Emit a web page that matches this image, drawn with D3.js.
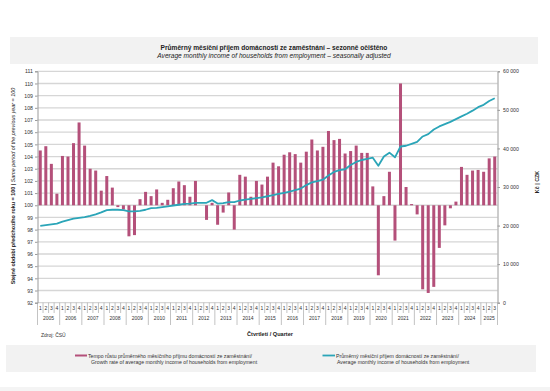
<!DOCTYPE html>
<html>
<head>
<meta charset="utf-8">
<script src="https://cdn.jsdelivr.net/npm/d3@7/dist/d3.min.js"></script>
<style>
body { margin: 0; background: #fff; }
svg { display: block; font-family: "Liberation Sans", Arial, sans-serif; }
</style>
</head>
<body>
<svg id="chart" width="550" height="391"></svg>
<script>
// quarters 2005 Q1 .. 2025 Q3
var years = [2005, 2006, 2007, 2008, 2009, 2010, 2011, 2012, 2013, 2014,
             2015, 2016, 2017, 2018, 2019, 2020, 2021, 2022, 2023, 2024, 2025]
var quarters = [1, 2, 3, 4]
var lastYearQuarters = 3

// growth index, same period of previous year = 100
var growth = [
    104.5, 104.85, 103.4, 100.95,
    104.05, 104.0, 105.1, 106.8,
    104.9, 103.0, 102.85, 101.2,
    102.4, 101.45, 99.85, 99.65,
    97.45, 97.55, 100.5, 101.1,
    100.75, 101.3, 100.2, 100.45,
    101.4, 101.95, 101.65, 100.7,
    102.0, 100.0, 98.8, 100.2,
    98.4, 99.4, 101.05, 98.0,
    102.5, 102.35, 100.7, 102.0,
    101.7, 102.35, 103.5, 103.2,
    104.15, 104.35, 104.2, 103.5,
    104.4, 105.4, 104.5, 104.8,
    106.1, 105.35, 105.45, 104.25,
    104.45, 104.9, 104.3, 104.3,
    101.55, 94.25, 100.75, 102.75,
    97.1, 110.0, 101.5, 100.1,
    99.25, 93.1, 92.8, 93.3,
    96.5, 98.35, 99.75, 100.3,
    103.15, 102.5, 102.85, 102.9,
    102.75, 103.85, 104.0
]

// average monthly income of households from employment, CZK
var income = [
    19900, 20100, 20300, 20500,
    21000, 21400, 21800, 22000,
    22200, 22500, 22900, 23400,
    24000, 24100, 24100, 24000,
    23700, 23700, 23800, 24100,
    24500, 24600, 24800, 25000,
    25200, 25400, 25600, 25700,
    25900, 25900, 25900, 26600,
    25700, 25800, 26100, 26100,
    26500, 26700, 26900, 27100,
    27300, 27600, 27900, 28200,
    28500, 28800, 29200, 29600,
    30500, 31200, 31500, 31900,
    33000, 33900, 34400, 34600,
    35700, 36500, 37000, 37300,
    37600, 35500, 37900, 38900,
    37700, 40500, 40700, 41200,
    41700, 43100, 43700, 44900,
    45700, 46300, 46900, 47600,
    48300, 49000, 49800, 50700,
    51300, 52300, 53000
]

var leftTicks = [92, 93, 94, 95, 96, 97, 98, 99, 100, 101, 102, 103, 104, 105,
                 106, 107, 108, 109, 110, 111]
var rightTicks = [0, 10000, 20000, 30000, 40000, 50000, 60000]

var titleCz = "Průměrný měsíční příjem domácností ze zaměstnání – sezonně očištěno"
var titleEn = "Average monthly income of households from employment – seasonally adjusted"
var legendGrowth = ["Tempo růstu průměrného měsíčního příjmu domácností ze zaměstnání/",
                    "Growth rate of average monthly income of households from employment"]
var legendIncome = ["Průměrný měsíční příjem domácností ze zaměstnání/",
                    "Average monthly income of households from employment"]

var categories = []
years.forEach(function(yr, k) {
    var qs = k == years.length - 1 ? quarters.slice(0, lastYearQuarters) : quarters
    qs.forEach(function(q) { categories.push({year: yr, q: q, key: yr + "Q" + q}) })
})

var barColor = "#b4507a"
var lineColor = "#2ba5b8"
var gridColor = "#d6d6d6"
var axisColor = "#9a9a9a"

var svg = d3.select("#chart")
var plotL = 37.5, plotR = 497.5, plotT = 71.3, plotB = 302.7

var x = d3.scaleBand()
          .domain(categories.map(function(d) { return d.key }))
          .range([plotL, plotR])
          .padding(0)
var yL = d3.scaleLinear().domain([92, 111]).range([plotB, plotT])
var yR = d3.scaleLinear().domain([0, 60000]).range([plotB, plotT])
var bw = x.bandwidth()

// gray bands behind title and legend
svg.append("rect").attr("x", 10).attr("y", 37).attr("width", 528).attr("height", 27).attr("fill", "#f2f2f2")
svg.append("rect").attr("x", 6).attr("y", 345).attr("width", 530).attr("height", 27).attr("fill", "#f2f2f2")
svg.append("rect").attr("x", 0).attr("y", 387).attr("width", 550).attr("height", 4).attr("fill", "#f4f4f4")

svg.append("text").attr("x", 274).attr("y", 50).attr("text-anchor", "middle")
   .attr("font-size", 6.6).attr("font-weight", "bold").attr("fill", "#222").text(titleCz)
svg.append("text").attr("x", 274).attr("y", 58).attr("text-anchor", "middle")
   .attr("font-size", 6.6).attr("font-style", "italic").attr("fill", "#222").text(titleEn)

// gridlines
svg.append("g").selectAll("line").data(leftTicks).join("line")
   .attr("x1", plotL).attr("x2", plotR)
   .attr("y1", function(d) { return yL(d) }).attr("y2", function(d) { return yL(d) })
   .attr("stroke", gridColor).attr("stroke-width", 1.3)

// left axis
var gl = svg.append("g").attr("transform", "translate(" + plotL + ",0)")
   .call(d3.axisLeft(yL).tickValues(leftTicks).tickSize(2.5).tickPadding(2))
gl.select(".domain").attr("stroke", axisColor)
gl.selectAll(".tick line").attr("stroke", axisColor)
gl.selectAll("text").attr("font-size", 5.2).attr("fill", "#333").attr("font-family", null)

// right axis
var fmt = function(v) { return d3.format(",")(v).replace(/,/g, " ") }
var gr = svg.append("g").attr("transform", "translate(" + plotR + ",0)")
   .call(d3.axisRight(yR).tickValues(rightTicks).tickFormat(fmt).tickSize(2.5).tickPadding(3))
gr.select(".domain").attr("stroke", axisColor)
gr.selectAll(".tick line").attr("stroke", axisColor)
gr.selectAll("text").attr("font-size", 5.2).attr("fill", "#333").attr("font-family", null)

// axis titles
var lt = svg.append("text").attr("transform", "translate(15,186) rotate(-90)")
   .attr("text-anchor", "middle").attr("font-size", 5.4).attr("fill", "#222")
lt.append("tspan").attr("font-weight", "bold").text("Stejné období předchozího roku = 100 | ")
lt.append("tspan").attr("font-style", "italic").text("Same period of the previous year = 100")
svg.append("text").attr("transform", "translate(539,182) rotate(-90)")
   .attr("text-anchor", "middle").attr("font-size", 5.4).attr("font-weight", "bold").attr("fill", "#222")
   .text("Kč | CZK")

// bars
var bar = 3
svg.append("g").selectAll("rect").data(growth).join("rect")
   .attr("x", function(d, i) { return x(categories[i].key) + (bw - bar) / 2 })
   .attr("width", bar)
   .attr("y", function(d) { return yL(Math.max(d, 100)) })
   .attr("height", function(d) { return Math.abs(yL(d) - yL(100)) })
   .attr("fill", barColor)

// income line
var line = d3.line()
    .x(function(d, i) { return x(categories[i].key) + bw / 2 })
    .y(function(d) { return yR(d) })
svg.append("path").datum(income).attr("d", line)
   .attr("fill", "none").attr("stroke", lineColor).attr("stroke-width", 1.8)
   .attr("stroke-linejoin", "round")

// multi-level category axis
var ax = svg.append("g")
ax.selectAll("line.q").data(categories).join("line").attr("class", "q")
  .attr("x1", function(d) { return x(d.key) }).attr("x2", function(d) { return x(d.key) })
  .attr("y1", plotB).attr("y2", function(d) { return d.q == 1 ? 325 : 313 })
  .attr("stroke", axisColor).attr("stroke-width", 0.6)
ax.append("line").attr("x1", plotR).attr("x2", plotR).attr("y1", plotB).attr("y2", 325)
  .attr("stroke", axisColor).attr("stroke-width", 0.6)
ax.selectAll("text.q").data(categories).join("text").attr("class", "q")
  .attr("x", function(d) { return x(d.key) + bw / 2 }).attr("y", 309.5)
  .attr("text-anchor", "middle").attr("font-size", 5).attr("fill", "#333")
  .text(function(d) { return d.q })
ax.selectAll("text.y").data(years).join("text").attr("class", "y")
  .attr("x", function(yr) {
      var cs = categories.filter(function(c) { return c.year == yr })
      return (x(cs[0].key) + x(cs[cs.length - 1].key) + bw) / 2
  })
  .attr("y", 320).attr("text-anchor", "middle").attr("font-size", 5).attr("fill", "#333")
  .text(function(yr) { return yr })

svg.append("text").attr("x", 270).attr("y", 336).attr("text-anchor", "middle")
   .attr("font-size", 5.6).attr("font-weight", "bold").attr("fill", "#222").text("Čtvrtletí / Quarter")
svg.append("text").attr("x", 41).attr("y", 337)
   .attr("font-size", 5).attr("fill", "#333").text("Zdroj: ČSÚ")

// legend
svg.append("line").attr("x1", 75).attr("x2", 87).attr("y1", 355.5).attr("y2", 355.5)
   .attr("stroke", barColor).attr("stroke-width", 2)
svg.append("line").attr("x1", 322.5).attr("x2", 335).attr("y1", 355.5).attr("y2", 355.5)
   .attr("stroke", lineColor).attr("stroke-width", 1.8)
var lg1 = svg.append("text").attr("font-size", 5.2).attr("fill", "#333")
lg1.append("tspan").attr("x", 88).attr("y", 357.5).text(legendGrowth[0])
lg1.append("tspan").attr("x", 91).attr("y", 363.5).text(legendGrowth[1])
var lg2 = svg.append("text").attr("font-size", 5.2).attr("fill", "#333")
lg2.append("tspan").attr("x", 336).attr("y", 357.5).text(legendIncome[0])
lg2.append("tspan").attr("x", 337).attr("y", 363.5).text(legendIncome[1])
</script>
</body>
</html>
